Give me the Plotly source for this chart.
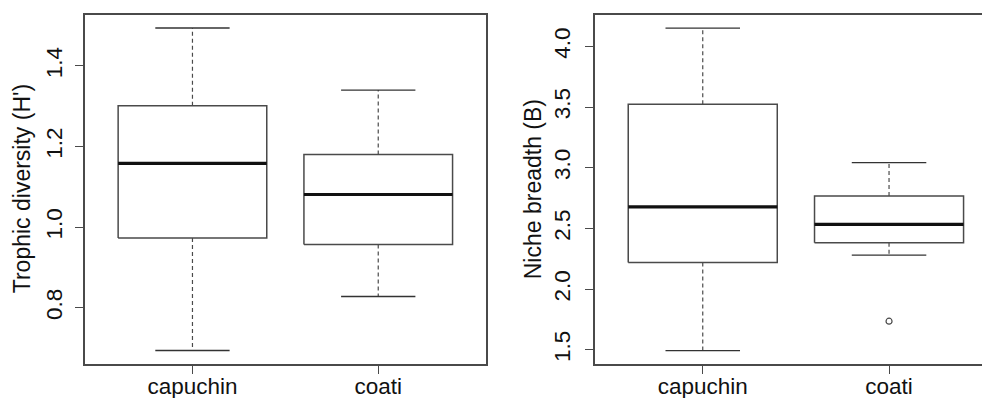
import plotly.graph_objects as go

# ---- data ----
categories = ["capuchin", "coati"]

# Trophic diversity (H')
h_min = [0.694, 0.828]
h_q1 = [0.973, 0.957]
h_med = [1.158, 1.081]
h_q3 = [1.301, 1.180]
h_max = [1.494, 1.340]
h_out = [[], []]
h_ticks = [0.8, 1.0, 1.2, 1.4]

# Niche breadth (B)
b_min = [1.494, 2.281]
b_q1 = [2.220, 2.383]
b_med = [2.677, 2.534]
b_q3 = [3.524, 2.767]
b_max = [4.151, 3.043]
b_out = [[], [1.736]]
b_ticks = [1.5, 2.0, 2.5, 3.0, 3.5, 4.0]

LINE = "#4a4a4a"
FONT = "Liberation Sans, Arial, sans-serif"
W, H = 982, 398

fig = go.Figure()


def add_boxes(mins, q1s, meds, q3s, maxs, outs, xa, ya):
    for i, cat in enumerate(categories):
        x = i + 1
        hw, cw = 0.4, 0.2
        # whiskers (dashed)
        fig.add_trace(go.Scatter(x=[x, x, None, x, x], y=[q3s[i], maxs[i], None, q1s[i], mins[i]],
                                 mode="lines", line=dict(color=LINE, width=1.2, dash="4px,3px"),
                                 xaxis=xa, yaxis=ya, showlegend=False, hoverinfo="skip"))
        # caps
        fig.add_trace(go.Scatter(x=[x - cw, x + cw, None, x - cw, x + cw],
                                 y=[maxs[i], maxs[i], None, mins[i], mins[i]],
                                 mode="lines", line=dict(color="#333333", width=1.3),
                                 xaxis=xa, yaxis=ya, showlegend=False, hoverinfo="skip"))
        # box
        fig.add_trace(go.Scatter(x=[x - hw, x + hw, x + hw, x - hw, x - hw],
                                 y=[q1s[i], q1s[i], q3s[i], q3s[i], q1s[i]],
                                 mode="lines", fill="toself", fillcolor="white",
                                 line=dict(color=LINE, width=1.5),
                                 xaxis=xa, yaxis=ya, showlegend=False, hoverinfo="skip"))
        # median
        fig.add_trace(go.Scatter(x=[x - hw, x + hw], y=[meds[i], meds[i]],
                                 mode="lines", line=dict(color="#111111", width=3.2),
                                 xaxis=xa, yaxis=ya, showlegend=False, hoverinfo="skip"))
        if outs[i]:
            fig.add_trace(go.Scatter(x=[x] * len(outs[i]), y=outs[i], mode="markers",
                                     marker=dict(symbol="circle-open", size=6,
                                                 color=LINE, line=dict(width=1.2)),
                                     xaxis=xa, yaxis=ya, showlegend=False, hoverinfo="skip"))


add_boxes(h_min, h_q1, h_med, h_q3, h_max, h_out, "x", "y")
add_boxes(b_min, b_q1, b_med, b_q3, b_max, b_out, "x2", "y2")

ydom = [1 - 363.8 / H, 1 - 14.7 / H]

common_x = dict(tickvals=[1, 2], ticktext=categories, ticks="outside", ticklen=8,
                tickcolor=LINE, tickwidth=1.2, showline=True, linecolor=LINE, linewidth=1.5,
                showgrid=False, zeroline=False, fixedrange=True, ticklabelstandoff=-7,
                automargin=False,
                tickfont=dict(family=FONT, size=22.5, color="#111111"))
common_y = dict(ticks="outside", ticklen=8, tickcolor=LINE, tickwidth=1.2, tickangle=-90,
                showline=True, linecolor=LINE, linewidth=1.5, showgrid=False, zeroline=False,
                domain=ydom, tickformat=".1f", automargin=False,
                tickfont=dict(family=FONT, size=22.5, color="#111111"))

fig.update_layout(
    width=W, height=H, margin=dict(l=0, r=0, t=0, b=0),
    paper_bgcolor="white", plot_bgcolor="white",
    xaxis=dict(domain=[84.7 / W, 486 / W], range=[0.42, 2.58], mirror=True, anchor="y", **common_x),
    yaxis=dict(range=[0.661, 1.527], tickvals=h_ticks, mirror=True, anchor="x",
               ticklabelstandoff=4, **common_y),
    xaxis2=dict(domain=[594.7 / W, 1.0], range=[0.42, 2.499], mirror=True, anchor="y2", **common_x),
    yaxis2=dict(range=[1.385, 4.261], tickvals=b_ticks, mirror=False, anchor="x2",
                ticklabelstandoff=6, **common_y),
    annotations=[
        dict(text="Trophic diversity (H')", textangle=-90, xref="paper", yref="paper",
             x=22 / W, y=(ydom[0] + ydom[1]) / 2, xanchor="center", yanchor="middle",
             showarrow=False, font=dict(family=FONT, size=23, color="#111111")),
        dict(text="Niche breadth (B)", textangle=-90, xref="paper", yref="paper",
             x=533 / W, y=(ydom[0] + ydom[1]) / 2, xanchor="center", yanchor="middle",
             showarrow=False, font=dict(family=FONT, size=23, color="#111111")),
    ],
)

fig.write_html("out.html")
